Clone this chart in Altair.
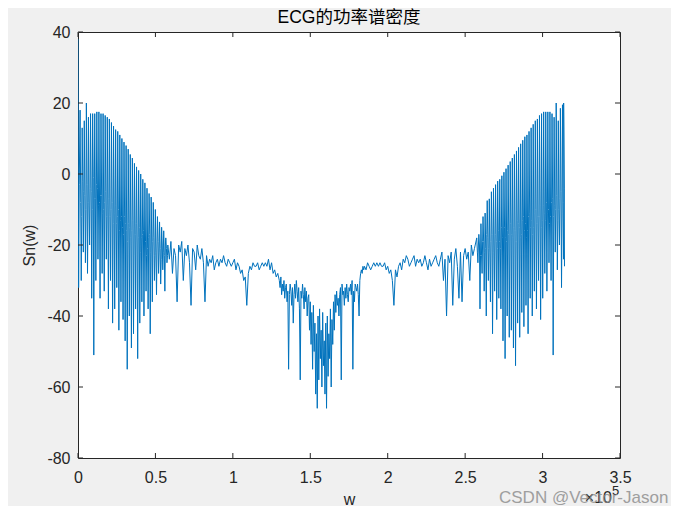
import altair as alt
import pandas as pd

# ---------------- data (x in units of 1e5) ----------------
X_TICKS = [0, 0.5, 1, 1.5, 2, 2.5, 3, 3.5]
Y_TICKS = [-80, -60, -40, -20, 0, 20, 40]

HARM_STEP = 0.0135

START_X = [0.0, 0.004, 0.008]
START_Y = [38, -32, -3]

LEFT_START = 0.0135
LEFT_PEAK = [18, 13, 15, 20, 16, 17, 17, 17, 17.5, 17.5,
             17, 17, 16.5, 16, 15.5, 14.5, 13.5, 12.5, 12, 11,
             10, 9, 8, 7, 5.5, 4.5, 3, 2, 1, 0,
             -1.5, -2.5, -4, -5.5, -6.5, -8, -10, -12, -13.5, -15,
             -16, -18]
LEFT_FLOOR_A = [-8, -2, -6, -3, -9, -5, -1, -7, -4, -8,
                -6, -10, -5, -9, -12, -8, -11, -14, -10, -13,
                -15, -12, -16, -14, -18, -13, -17, -20, -15, -18,
                -16, -19, -21, -17, -20, -18, -22, -19, -21, -20,
                -23, -21]
LEFT_DIP = [-30, -22, -25, -28, -20, -35, -51, -30, -24, -35,
            -28, -33, -24, -38, -30, -42, -38, -32, -44, -36,
            -41, -47, -55, -40, -49, -45, -38, -52, -42, -36,
            -40, -33, -38, -45, -36, -30, -34, -28, -31, -27,
            -33, -25]
LEFT_FLOOR_B = [-12, -5, -10, -8, -4, -10, -7, -3, -9, -6,
                -11, -8, -12, -7, -10, -14, -9, -12, -16, -12,
                -17, -14, -19, -15, -16, -20, -14, -18, -22, -17,
                -20, -23, -18, -22, -19, -23, -20, -22, -24, -22,
                -20, -23]

MID_A_START = 0.58
MID_STEP = 0.01
MID_A = [-20, -24, -19, -28, -21, -23, -36, -20, -22, -19, -30, -21, -23,
         -20, -25, -37, -21, -22, -27, -20, -23, -24, -21,
         -25, -36, -23, -26, -24, -25, -23, -27, -25, -24,
         -26, -24, -25, -23, -25, -26, -24, -25, -26, -25,
         -24, -27, -25, -26, -28, -27, -30, -29, -37, -28,
         -26, -27, -25, -26, -26, -25, -27, -26, -25, -26,
         -25, -26, -24, -27, -25, -28, -27, -29, -28]

CENTER_START = 1.30
CENTER_STEP = 0.005
CENTER = [-30, -32, -29, -34, -31, -33, -30, -35, -32, -31,
          -36, -33, -55, -34, -31, -33, -37, -32, -42, -34,
          -31, -35, -30, -33, -36, -32, -38, -58, -33, -35,
          -31, -34, -38, -32, -36, -33, -40, -35, -34, -44,
          -36, -48, -39, -55, -37, -50, -42, -62, -45, -66,
          -40, -58, -38, -52, -44, -60, -39, -54, -47, -62,
          -42, -66, -40, -57, -45, -52, -38, -60, -41, -48,
          -36, -44, -34, -39, -33, -37, -35, -40, -34, -32,
          -58, -31, -34, -33, -37, -32, -35, -31, -34, -36,
          -32, -33, -31, -34, -30, -55, -33, -36, -31, -32,
          -33, -31, -34, -40, -30, -28, -27, -28, -26, -27]

MID_B_START = 1.85
MID_B = [-26, -27, -25, -26, -27, -26,
         -25, -26, -25, -26, -25, -26, -26, -25, -27, -26,
         -28, -27, -30, -37, -27, -29, -26, -25, -27, -24,
         -25, -23, -24, -26, -25, -24, -23, -26, -24, -25,
         -24, -26, -25, -23, -25, -27, -24, -26, -25, -24,
         -23, -25, -26, -24, -22, -30, -24, -40, -23, -25,
         -22, -37, -24, -21, -26, -35, -22, -36, -23, -21,
         -24, -22, -30, -20, -23, -21]

RIGHT_START = 2.575
RIGHT_PEAK = [-18, -17, -14, -12, -11, -7.5, -7, -5, -4, -3,
              -2, -1.5, -0.5, 0.5, 1.5, 2.5, 3.5, 4.5, 5.5, 6.5,
              7.5, 8.5, 9.5, 10.5, 11, 12, 13, 14, 15, 15.5,
              16.5, 17, 17.5, 17.5, 17.5, 17.5, 17, 16, 20, 15,
              18.5, 19.5]
RIGHT_FLOOR_A = [-22, -20, -23, -19, -21, -18, -22, -17, -20, -19,
                 -16, -21, -18, -15, -19, -17, -14, -18, -16, -13,
                 -15, -17, -12, -14, -16, -11, -13, -15, -10, -12,
                 -9, -13, -11, -8, -10, -12, -7, -9, -6, -10,
                 -5, -8]
RIGHT_DIP = [-25, -38, -28, -33, -40, -30, -36, -45, -33, -41,
             -35, -38, -47, -52, -40, -46, -44, -49, -54, -42,
             -46, -39, -43, -37, -45, -35, -40, -33, -38, -30,
             -41, -35, -28, -33, -25, -30, -51, -22, -27, -20,
             -32, -24]
RIGHT_FLOOR_B = [-20, -23, -19, -22, -17, -21, -19, -22, -17, -21,
                 -19, -15, -20, -18, -16, -20, -17, -15, -19, -14,
                 -18, -13, -16, -18, -12, -15, -17, -11, -14, -12,
                 -15, -9, -13, -11, -14, -8, -12, -10, -13, -7,
                 -11, -4]

END_X = [3.136, 3.1416]
END_Y = [20, -26]

TITLE = "ECG的功率谱密度"
X_TITLE = "w"
Y_TITLE = "Sn(w)"
EXP_BASE = "×10"
EXP_POWER = "5"
WATERMARK = "CSDN @Vector-Jason"

# ---------------- build series table ----------------
xs, ys = list(START_X), list(START_Y)


def add_harmonics(start, peaks, fa, dips, fb):
    for k, (p, a, d, b) in enumerate(zip(peaks, fa, dips, fb)):
        x0 = start + k * HARM_STEP
        for frac, val in ((0.0, p), (0.3, a), (0.55, d), (0.8, b)):
            xs.append(x0 + frac * HARM_STEP)
            ys.append(val)


def add_uniform(start, step, vals):
    for i, v in enumerate(vals):
        xs.append(start + i * step)
        ys.append(v)


add_harmonics(LEFT_START, LEFT_PEAK, LEFT_FLOOR_A, LEFT_DIP, LEFT_FLOOR_B)
add_uniform(MID_A_START, MID_STEP, MID_A)
add_uniform(CENTER_START, CENTER_STEP, CENTER)
add_uniform(MID_B_START, MID_STEP, MID_B)
add_harmonics(RIGHT_START, RIGHT_PEAK, RIGHT_FLOOR_A, RIGHT_DIP, RIGHT_FLOOR_B)
xs += END_X
ys += END_Y

df = pd.DataFrame({"w": xs, "s": ys, "i": range(len(xs))})
xt = pd.DataFrame({"t": X_TICKS})
yt = pd.DataFrame({"t": Y_TICKS})

W, H = 542, 426
AX = "#262626"
FONT = "Liberation Sans"

xscale = alt.Scale(domain=[0, 3.5], nice=False, zero=False)
yscale = alt.Scale(domain=[-80, 40], nice=False, zero=False)

line = alt.Chart(df).mark_line(color="#0072BD", strokeWidth=1.0, clip=True).encode(
    x=alt.X("w:Q", scale=xscale, axis=alt.Axis(
        values=X_TICKS, labelExpr="'' + datum.value", ticks=False, domain=False,
        grid=False, labelFlush=False, labelPadding=11, labelFontSize=16,
        labelFont=FONT, labelColor=AX, title=X_TITLE, titleFont=FONT,
        titleFontSize=16, titleFontWeight="normal", titleColor=AX,
        titleX=W / 2, titleY=46, titleBaseline="alphabetic",
        titleAlign="center")),
    y=alt.Y("s:Q", scale=yscale, axis=alt.Axis(
        values=Y_TICKS, labelExpr="'' + datum.value", ticks=False, domain=False,
        grid=False, labelFlush=False, labelPadding=8, labelFontSize=16,
        labelFont=FONT, labelColor=AX, title=Y_TITLE, titleFont=FONT,
        titleFontSize=16, titleFontWeight="normal", titleColor=AX,
        titleAngle=270, titleX=-44, titleY=H / 2, titleBaseline="alphabetic",
        titleAlign="center")),
    order="i:Q",
)

tick_style = dict(color=AX, strokeWidth=1)
xt_top = alt.Chart(xt).mark_rule(**tick_style).encode(
    x=alt.X("t:Q", scale=xscale), y=alt.value(0), y2=alt.value(5))
xt_bot = alt.Chart(xt).mark_rule(**tick_style).encode(
    x=alt.X("t:Q", scale=xscale), y=alt.value(H), y2=alt.value(H - 5))
yt_left = alt.Chart(yt).mark_rule(**tick_style).encode(
    y=alt.Y("t:Q", scale=yscale), x=alt.value(0), x2=alt.value(5))
yt_right = alt.Chart(yt).mark_rule(**tick_style).encode(
    y=alt.Y("t:Q", scale=yscale), x=alt.value(W), x2=alt.value(W - 5))

title = alt.Chart(pd.DataFrame({"t": [TITLE]})).mark_text(
    font="Liberation Sans, 'Noto Sans CJK SC'", fontSize=17.5, color="#000000",
    align="center", baseline="alphabetic").encode(
    text="t:N", x=alt.value(W / 2), y=alt.value(-9))

exp_base = alt.Chart(pd.DataFrame({"t": [EXP_BASE]})).mark_text(
    font=FONT, fontSize=16, color=AX, align="right", baseline="alphabetic").encode(
    text="t:N", x=alt.value(W - 8), y=alt.value(H + 45))
exp_pow = alt.Chart(pd.DataFrame({"t": [EXP_POWER]})).mark_text(
    font=FONT, fontSize=13, color=AX, align="left", baseline="alphabetic").encode(
    text="t:N", x=alt.value(W - 8), y=alt.value(H + 37))

watermark = alt.Chart(pd.DataFrame({"t": [WATERMARK]})).mark_text(
    font=FONT, fontSize=17, color="#8a8a8a", opacity=0.8, align="left",
    baseline="alphabetic").encode(
    text="t:N", x=alt.value(421), y=alt.value(H + 45))

chart = alt.layer(
    line, xt_top, xt_bot, yt_left, yt_right, title, exp_base, exp_pow, watermark
).properties(
    width=W, height=H,
    padding={"left": 70, "top": 24, "right": 51, "bottom": 48},
    autosize=alt.AutoSizeParams(type="none"),
    background="#F0F0F0",
).configure_view(stroke=AX, strokeWidth=1, fill="white")

chart.save("out.html", embed_options={"renderer": "svg", "actions": False})
